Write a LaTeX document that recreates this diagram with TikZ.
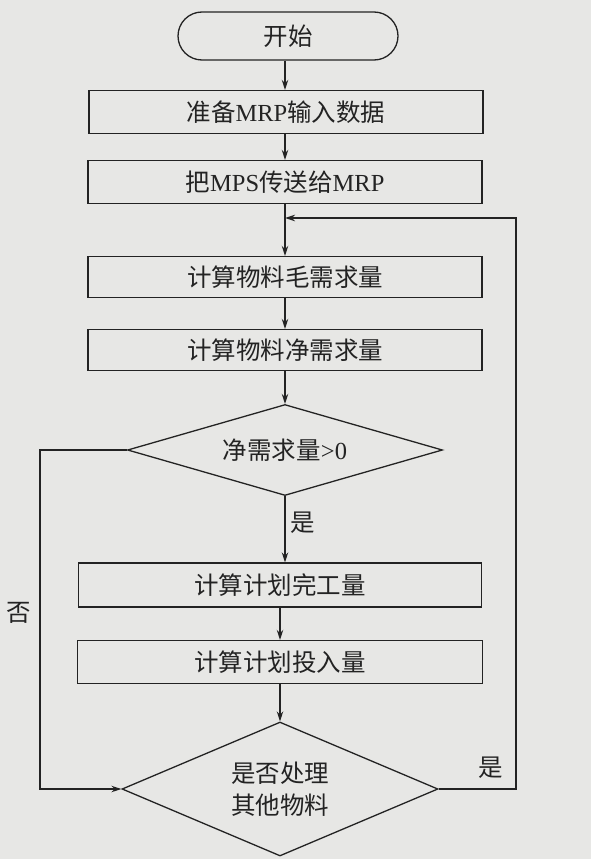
\documentclass[tikz,border=0pt]{standalone}
\usepackage{fontspec}
\setmainfont{Liberation Serif}
\newfontfamily\cjk{Noto Sans CJK SC}
\usetikzlibrary{shapes.geometric,arrows.meta}
\definecolor{paper}{RGB}{231,231,229}
\definecolor{ink}{RGB}{35,35,35}
\begin{document}
\begin{tikzpicture}[x=1pt,y=-1pt,
	every node/.style={font=\fontsize{24.5}{32}\selectfont, text=ink},
	box/.style={draw=ink, line width=1.3pt, minimum width=394pt, minimum height=43pt, inner sep=0pt},
	test/.style={draw=ink, line width=1.3pt, shape=diamond, inner sep=0pt, align=center},
	flow/.style={draw=ink, line width=1.3pt, -{Stealth[length=10pt,width=6.5pt]}}]
	\fill[paper] (0,0) rectangle (591,859);
	\useasboundingbox (0,0) rectangle (591,859);
	\node[draw=ink, line width=1.3pt, rounded corners=24pt, minimum width=220pt, minimum height=48pt] (start) at (288,36) {\cjk 开始};
	\node[box] (prep) at (286,112) {{\cjk 准备}MRP{\cjk 输入数据}};
	\node[box] (send) at (285,182) {{\cjk 把}MPS{\cjk 传送给}MRP};
	\node[box, minimum height=41pt] (gross) at (285,277) {\cjk 计算物料毛需求量};
	\node[box, minimum height=41pt] (net) at (285,350) {\cjk 计算物料净需求量};
	\node[test, minimum width=315pt, minimum height=91pt, aspect=3.46] (dec1) at (285,450) {{\cjk 净需求量}>0};
	\node[box, minimum width=403pt, minimum height=44pt] (plan) at (280,585) {\cjk 计算计划完工量};
	\node[box, minimum width=405pt, minimum height=43pt] (input) at (280,662) {\cjk 计算计划投入量};
	\node[test, minimum width=316pt, minimum height=134pt, aspect=2.36] (dec2) at (280,789) {\cjk 是否处理\\\cjk 其他物料};
	\coordinate (back) at (285,218);
	\coordinate (noL) at (40,0);
	\coordinate (yesR) at (516,0);
	\draw[flow] (start.south -| back) -- (prep.north -| back);
	\draw[flow] (prep.south -| back) -- (send.north -| back);
	\draw[flow] (send.south -| back) -- (gross.north -| back);
	\draw[flow] (gross.south -| back) -- (net.north -| back);
	\draw[flow] (net) -- (dec1);
	\draw[flow] (dec1.south) -- node[right, xshift=2pt, yshift=7pt] (yes1) {\cjk 是} (plan.north -| dec1.south);
	\draw[flow] (plan.south -| dec2) -- (input.north -| dec2);
	\draw[flow] (input) -- (dec2);
	\draw[flow] (dec1.west) -- (dec1.west -| noL) |- (dec2.west);
	\draw[flow] (dec2.east) -- (dec2.east -| yesR) |- (back);
	\node (no) at (19,613) {\cjk 否};
	\node (yes2) at (491,768) {\cjk 是};
\end{tikzpicture}
\end{document}
